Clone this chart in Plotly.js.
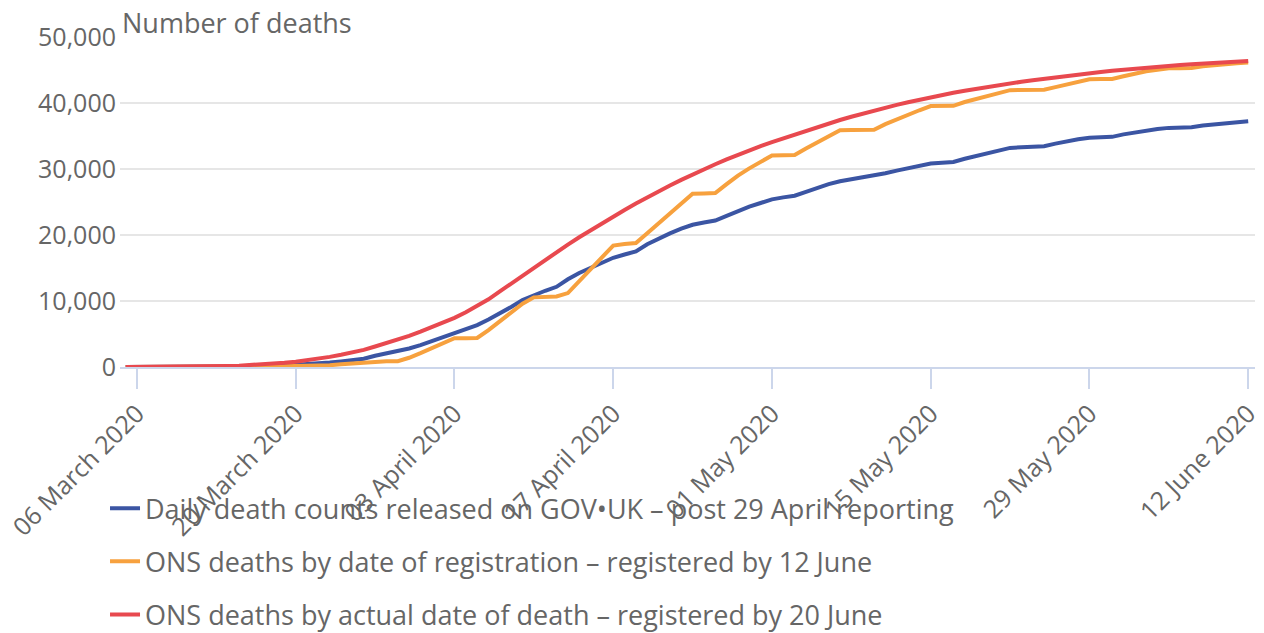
<!DOCTYPE html>
<html>
<head>
<meta charset="utf-8">
<script src="https://cdn.plot.ly/plotly-3.0.1.min.js"></script>
<style>
html,body{margin:0;padding:0;background:#fff;}
#chart{width:1264px;height:633px;}
</style>
</head>
<body>
<div id="chart"></div>
<script>
// Daily series from 05 March 2020 to 12 June 2020 (100 days)
const startDate = '2020-03-05';
const dayCount = 100;

const seriesNames = [
  'Daily death counts released on GOV\u2022UK \u2013 post 29 April reporting',
  'ONS deaths by date of registration \u2013 registered by 12 June',
  'ONS deaths by actual date of death \u2013 registered by 20 June'
];

const govukDeaths = [
  1, 2, 2, 3, 4, 6, 8, 10, 15, 25,
  40, 60, 90, 140, 210, 300, 400, 520, 680, 850,
  1050, 1250, 1700, 2050, 2350, 2800, 3300, 3900, 4550, 5200,
  5800, 6350, 7200, 8100, 9100, 10150, 10900, 11550, 12150, 13300,
  14250, 15050, 15800, 16550, 17050, 17500, 18600, 19500, 20250, 20950,
  21550, 21900, 22200, 22900, 23650, 24300, 24850, 25400, 25700, 25950,
  26550, 27150, 27700, 28150, 28450, 28700, 28900, 29350, 29750, 30150,
  30500, 30820, 30950, 31070, 31550, 32000, 32450, 32850, 33200, 33280,
  33360, 33440, 33850, 34200, 34500, 34720, 34800, 34870, 35250, 35550,
  35850, 36050, 36230, 36280, 36330, 36600, 36800, 36980, 37120, 37250
];

const onsRegistration = [
  0, 0, 0, 0, 0, 0, 1, 2, 3, 5,
  8, 15, 30, 55, 100, 160, 165, 170, 270, 400,
  550, 720, 870, 880, 890, 1400, 2100, 2850, 3600, 4350,
  4370, 4400, 5600, 6900, 8300, 9600, 10550, 10650, 10680, 11200,
  13000, 14800, 16600, 18400, 18650, 18780, 20280, 21780, 23280, 24780,
  26260, 26300, 26350, 27700, 29000, 30100, 31100, 32050, 32080, 32120,
  33100, 34050, 34980, 35870, 35900, 35920, 35950, 36800, 37550, 38250,
  38900, 39530, 39550, 39570, 40150, 40650, 41050, 41500, 41950, 41980,
  42000, 42020, 42400, 42850, 43250, 43600, 43620, 43640, 44050, 44450,
  44800, 45050, 45250, 45270, 45290, 45550, 45750, 45900, 46030, 46150
];

const onsDateOfDeath = [
  5, 8, 12, 18, 26, 38, 55, 78, 110, 150,
  200, 270, 360, 480, 630, 800, 1000, 1250, 1530, 1850,
  2200, 2600, 3100, 3600, 4130, 4700, 5350, 6000, 6700, 7450,
  8300, 9250, 10250, 11450, 12650, 13850, 15050, 16250, 17420, 18550,
  19650, 20730, 21780, 22800, 23800, 24770, 25710, 26620, 27500, 28350,
  29170, 29960, 30720, 31450, 32150, 32820, 33460, 34070, 34650, 35230,
  35800, 36360, 36900, 37420, 37920, 38400, 38860, 39300, 39720, 40120,
  40500, 40880, 41220, 41550, 41860, 42160, 42440, 42710, 42970, 43220,
  43460, 43690, 43910, 44120, 44320, 44510, 44700, 44880, 45050, 45210,
  45360, 45500, 45630, 45750, 45860, 45960, 46060, 46150, 46250, 46380
];

const tickDates = ['2020-03-06','2020-03-20','2020-04-03','2020-04-17','2020-05-01','2020-05-15','2020-05-29','2020-06-12'];
const tickLabels = ['06 March 2020','20 March 2020','03 April 2020','17 April 2020','01 May 2020','15 May 2020','29 May 2020','12 June 2020'];
const yTickValues = [0, 10000, 20000, 30000, 40000, 50000];
const yTickLabels = ['0', '10,000', '20,000', '30,000', '40,000', '50,000'];

const seriesColors = ['#3b55a3', '#f7a13e', '#e8494f'];

function buildDates() {
  const out = [];
  const d0 = new Date(startDate + 'T00:00:00Z');
  for (let i = 0; i < dayCount; i++) {
    const d = new Date(d0.getTime() + i * 86400000);
    out.push(d.toISOString().slice(0, 10));
  }
  return out;
}
const dates = buildDates();

const seriesValues = [govukDeaths, onsRegistration, onsDateOfDeath];
const traces = seriesValues.map((vals, i) => ({
  type: 'scatter',
  mode: 'lines',
  x: dates,
  y: vals,
  name: seriesNames[i],
  legendgroup: 'g' + i,
  line: {color: seriesColors[i], width: 4, shape: 'linear'},
  hoverinfo: 'x+y'
}));

const font = 'Open Sans, Noto Sans, sans-serif';

const layout = {
  width: 1264,
  height: 633,
  paper_bgcolor: '#ffffff',
  plot_bgcolor: '#ffffff',
  margin: {l: 120, r: 9, t: 37, b: 266, pad: 0, autoexpand: false},
  font: {family: font, color: '#666666', size: 26},
  showlegend: true,
  legend: {
    orientation: 'v',
    x: -0.0132, xanchor: 'left',
    y: -0.355, yanchor: 'top',
    font: {family: font, size: 27, color: '#666666'},
    tracegroupgap: 15,
    bgcolor: 'rgba(0,0,0,0)'
  },
  xaxis: {
    type: 'date',
    automargin: false,
    range: ['2020-03-04 12:00', '2020-06-12 14:24'],
    tickmode: 'array',
    tickvals: tickDates,
    ticktext: tickLabels,
    tickangle: -45,
    ticks: 'outside',
    ticklen: 20,
    tickwidth: 2,
    tickcolor: '#ccd6eb',
    showline: true,
    linecolor: '#ccd6eb',
    linewidth: 2,
    showgrid: false,
    zeroline: false,
    tickfont: {family: font, size: 25, color: '#666666'},
    fixedrange: true
  },
  yaxis: {
    automargin: false,
    range: [0, 50000],
    tickmode: 'array',
    tickvals: yTickValues,
    ticktext: yTickLabels,
    showgrid: true,
    gridcolor: '#e6e6e6',
    gridwidth: 2,
    zeroline: false,
    showline: false,
    ticks: '',
    ticklabelstandoff: 3,
    tickfont: {family: font, size: 25, color: '#666666'},
    fixedrange: true
  },
  annotations: [{
    text: 'Number of deaths',
    xref: 'paper', yref: 'paper',
    x: 0, y: 1.045,
    xanchor: 'left', yanchor: 'middle',
    showarrow: false,
    font: {family: font, size: 27, color: '#666666'}
  }]
};

Plotly.newPlot('chart', traces, layout, {displayModeBar: false, responsive: false});
</script>
</body>
</html>
